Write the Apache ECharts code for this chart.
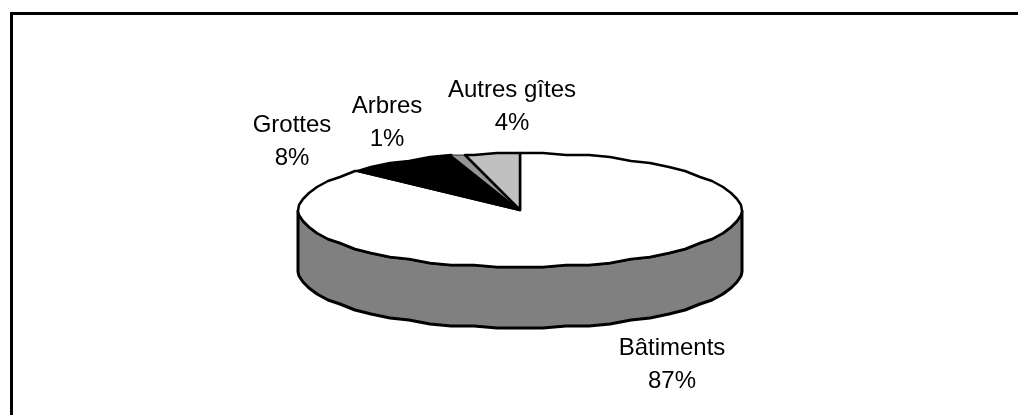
<!DOCTYPE html>
<html>
<head>
<meta charset="utf-8">
<style>
  html, body { margin: 0; padding: 0; background: #fff; }
  #chart { width: 1018px; height: 415px; }
</style>
<script src="https://cdn.jsdelivr.net/npm/echarts@6/dist/echarts.min.js"></script>
</head>
<body>
<div id="chart"></div>
<script>
var categories = ["Bâtiments", "Grottes", "Arbres", "Autres gîtes"];
var values = [87, 8, 1, 4];
var percentLabels = ["87%", "8%", "1%", "4%"];
var sliceColors = ["#ffffff", "#000000", "#969696", "#c0c0c0"];
var sliceStrokes = [2.5, 2.5, 0.8, 2.5];
var labelCenters = [[672, 365], [292, 141.5], [387, 122.5], [512, 107]];

var cx = 520, cy = 210, rx = 222, ry = 57, depth = 61;
var total = values.reduce(function (a, b) { return a + b; }, 0);
var step = Math.PI / 30;

// point on the top ellipse, angle in radians clockwise from 12 o'clock
function rim(a, dy) {
  return [cx + rx * Math.sin(a), cy - ry * Math.cos(a) + (dy || 0)];
}

// rough fixed grid, so top and wall share vertices; the original rim is wobbly too
function arc(a0, a1, dy) {
  var angles = [a0];
  for (var k = Math.ceil(a0 / step + 0.01); k * step < a1 - 0.001; k++) {
    angles.push(k * step);
  }
  angles.push(a1);
  return angles.map(function (a) {
    var p = rim(a, 0);
    return [Math.round(p[0]), Math.round((p[1] - 1) / 2) * 2 + 1 + (dy || 0)];
  });
}

var starts = [];
var acc = 0;
values.forEach(function (v) {
  starts.push(acc);
  acc += v;
});

function renderSlice(params, api) {
  var i = api.value(0);
  var a0 = starts[i] / total * Math.PI * 2;
  var a1 = (starts[i] + values[i]) / total * Math.PI * 2;
  var children = [];
  // visible part of the wall is the front half only
  var w0 = Math.max(a0, Math.PI / 2), w1 = Math.min(a1, Math.PI * 1.5);
  if (w1 > w0) {
    var front = arc(w0, w1, 0);
    var back = arc(w0, w1, depth).reverse();
    children.push({
      type: "polygon",
      shape: { points: front.concat(back) },
      style: { fill: "#808080", stroke: "#000", lineWidth: 3, lineJoin: "round" }
    });
  }
  children.push({
    type: "polygon",
    shape: { points: [[cx, cy]].concat(arc(a0, a1, 0)) },
    style: { fill: sliceColors[i], stroke: "#000", lineWidth: sliceStrokes[i], lineJoin: "round" }
  });
  children.push({
    type: "text",
    style: {
      x: labelCenters[i][0],
      y: labelCenters[i][1],
      text: categories[i] + "\n" + percentLabels[i],
      fill: "#000",
      font: "24px 'Liberation Sans', Arial, sans-serif",
      lineHeight: 33,
      align: "center",
      verticalAlign: "middle"
    }
  });
  return { type: "group", children: children };
}

var chart = echarts.init(document.getElementById("chart"), null, { renderer: "canvas" });
chart.setOption({
  animation: false,
  backgroundColor: "#fff",
  graphic: [
    {
      type: "polyline",
      shape: { points: [[11.5, 415], [11.5, 13.5], [1018, 13.5]] },
      style: { fill: null, stroke: "#000", lineWidth: 3 },
      silent: true
    }
  ],
  series: [
    {
      type: "custom",
      coordinateSystem: "none",
      renderItem: renderSlice,
      data: values.map(function (v, i) { return [i, v]; })
    }
  ]
});
</script>
</body>
</html>
